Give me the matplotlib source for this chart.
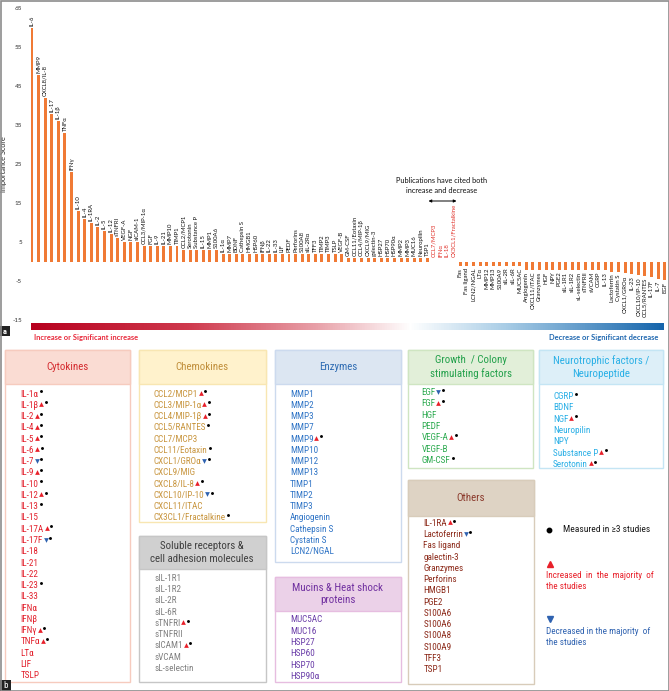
import numpy as np
import matplotlib
matplotlib.use('Agg')
import matplotlib.pyplot as plt
from matplotlib import font_manager
from matplotlib.patches import Rectangle
from matplotlib.colors import LinearSegmentedColormap

names = {f.name for f in font_manager.fontManager.ttflist}
NARROW = next((n for n in ['Liberation Sans Narrow', 'Roboto Condensed', 'Arial Narrow', 'Liberation Sans'] if n in names), 'DejaVu Sans')
LABELF = 'Lato' if 'Lato' in names else NARROW
plt.rcParams['font.family'] = [NARROW, 'DejaVu Sans']

# ---------------- Panel a data ----------------
bar_labels = ['IL-6', 'MMP9', 'CXCL8/IL-8', 'IL-17', 'IL-1β', 'TNFα', 'IFNγ', 'IL-10', 'IL-4', 'IL-1RA',
              'IL-2', 'IL-5', 'IL-12', 'sTNFRI', 'VEGF-A', 'NGF', 'sICAM-1', 'CCL3/MIP-1α', 'FGF', 'IL-9',
              'IL-21', 'MMP10', 'TIMP1', 'CCL2/MCP1', 'Serotonin', 'Substance P', 'IL-15', 'MMP1', 'S100A6',
              'IL-1α', 'MMP7', 'BDNF', 'Cathepsin S', 'HMGB1', 'HSP60', 'IFNβ', 'IL-22', 'IL-33', 'LIF',
              'PEDF', 'Perforins', 'S100A8', 'sIL-2Rα', 'TFF3', 'TIMP2', 'TIMP3', 'TSLP', 'VEGF-B',
              'GM-CSF', 'CCL11/Eotaxin', 'CCL4/MIP-1β', 'CXCL9/MIG', 'galectin-3', 'HSP27', 'HSP70',
              'HSP90α', 'MMP2', 'MMP3', 'MUC16', 'Neuropilin', 'TSP1',
              'CCL7/MCP3', 'IFNα', 'IL-18', 'CX3CL1/Fractalkine',
              'Fas', 'Fas ligand', 'LCN2/NGAL', 'LTα', 'MMP12', 'MMP13', 'S100A9', 'sIL-2R', 'sIL-6R', 'MUC5AC',
              'Angiogenin', 'CXCL11/ITAC', 'Granzymes', 'HGF', 'NPY', 'PGE2', 'sIL-1R1', 'sIL-1R2',
              'sL-selectin', 'sTNFRII', 'sVCAM', 'CGRP', 'IL-13',
              'Lactoferrin', 'Cystatin S', 'CXCL1/GROα', 'IL-23', 'CXCL10/IP-10', 'CCL5/RANTES',
              'IL-17F', 'IL-7', 'EGF']
bar_values = [60, 48, 42, 38, 36, 33, 23, 13, 11, 10,
              9, 8, 7, 6, 5, 5, 5, 4, 4, 4,
              4, 4, 4, 3, 3, 3, 3, 3, 3,
              2, 2, 2, 2, 2, 2, 2, 2, 2, 2,
              2, 2, 2, 2, 2, 2, 2, 2, 2,
              1, 1, 1, 1, 1, 1, 1,
              1, 1, 1, 1, 1, 1,
              0, 0, 0, 0,
              -1, -1, -1, -1, -1, -1, -1, -1, -1, -1,
              -2, -2, -2, -2, -2, -2, -2, -2,
              -2, -2, -2, -2, -2,
              -2.5, -2.7, -3, -3.2, -3.5, -3.6,
              -4, -4.4, -4.7]
y_ticks = [65, 55, 45, 35, 25, 15, 5, -5, -15]

# ---------------- Panel b data ----------------
cyto_items = ['IL-1α', 'IL-1β', 'IL-2', 'IL-4', 'IL-5', 'IL-6', 'IL-7', 'IL-9', 'IL-10', 'IL-12', 'IL-13',
              'IL-15', 'IL-17A', 'IL-17F', 'IL-18', 'IL-21', 'IL-22', 'IL-23', 'IL-33', 'IFNα', 'IFNβ',
              'IFNγ', 'TNFα', 'LTα', 'LIF', 'TSLP']
cyto_marks = ['.', '^.', '^.', '^.', '^.', '^.', 'v.', '^.', '.', '^.', '.',
              '', '^.', 'v.', '', '', '', '.', '', '', '',
              '^.', '^.', '', '', '']
chemo_items = ['CCL2/MCP1', 'CCL3/MIP-1α', 'CCL4/MIP-1β', 'CCL5/RANTES', 'CCL7/MCP3', 'CCL11/Eotaxin',
               'CXCL1/GROα', 'CXCL9/MIG', 'CXCL8/IL-8', 'CXCL10/IP-10', 'CXCL11/ITAC', 'CX3CL1/Fractalkine']
chemo_marks = ['^.', '^.', '^.', '.', '', '.', 'v.', '', '^.', 'v.', '', '.']
enz_items = ['MMP1', 'MMP2', 'MMP3', 'MMP7', 'MMP9', 'MMP10', 'MMP12', 'MMP13', 'TIMP1', 'TIMP2',
             'TIMP3', 'Angiogenin', 'Cathepsin S', 'Cystatin S', 'LCN2/NGAL']
enz_marks = ['', '', '', '', '^.', '', '', '', '', '', '', '', '', '', '']
growth_items = ['EGF', 'FGF', 'HGF', 'PEDF', 'VEGF-A', 'VEGF-B', 'GM-CSF']
growth_marks = ['v.', '^.', '', '', '^.', '', '.']
neuro_items = ['CGRP', 'BDNF', 'NGF', 'Neuropilin', 'NPY', 'Substance P', 'Serotonin']
neuro_marks = ['.', '', '^.', '', '', '^.', '^.']
sol_items = ['sIL-1R1', 'sIL-1R2', 'sIL-2R', 'sIL-6R', 'sTNFRI', 'sTNFRII', 'sICAM1', 'sVCAM', 'sL-selectin']
sol_marks = ['', '', '', '', '^.', '', '^.', '', '']
muc_items = ['MUC5AC', 'MUC16', 'HSP27', 'HSP60', 'HSP70', 'HSP90α']
muc_marks = ['', '', '', '', '', '']
oth_items = ['IL-1RA', 'Lactoferrin', 'Fas ligand', 'galectin-3', 'Granzymes', 'Perforins', 'HMGB1',
             'PGE2', 'S100A6', 'S100A6', 'S100A8', 'S100A9', 'TFF3', 'TSP1']
oth_marks = ['^.', 'v.', '', '', '', '', '', '', '', '', '', '', '', '']

W, H = 669, 691
fig = plt.figure(figsize=(W / 100, H / 100), dpi=100)
fig.patch.set_facecolor('white')

# ---------------- Panel a: bar chart ----------------
x0_px, x1_px = 24.1, 668.6
y_top_px, y_bot_px = 8.3, 320.3
ax = fig.add_axes([x0_px / W, 1 - y_bot_px / H, (x1_px - x0_px) / W, (y_bot_px - y_top_px) / H])
idx = np.arange(len(bar_labels))
ax.bar(idx, bar_values, width=0.45, color='#F07A35', zorder=2)
ax.set_xlim(-1.2, 96.6)
ax.set_ylim(-15, 65)
ax.set_yticks(y_ticks)
ax.set_yticklabels([str(t) for t in y_ticks], fontsize=4.6, color='#333333', family=LABELF)
ax.tick_params(axis='y', length=0, pad=1.5)
ax.set_xticks([])
for s in ax.spines.values():
    s.set_visible(False)
ax.patch.set_alpha(0)
ax.set_ylabel('Importance Score', fontsize=5.2, family=LABELF, labelpad=3.5, color='#222222')

for i, (lab, v) in enumerate(zip(bar_labels, bar_values)):
    if v > 0:
        ax.annotate(lab, (i, v), xytext=(0, 1.5), textcoords='offset points', rotation=90,
                    ha='center', va='bottom', fontsize=4.3, family=LABELF, color='#111111',
                    annotation_clip=False)
    elif v == 0:
        ax.annotate(lab, (i, 0), xytext=(0, 3.5), textcoords='offset points', rotation=90,
                    ha='center', va='bottom', fontsize=4.3, family=LABELF, color='#E03028',
                    annotation_clip=False)
    else:
        ax.annotate(lab, (i, v), xytext=(0, -1.5), textcoords='offset points', rotation=90,
                    ha='center', va='top', fontsize=4.3, family=LABELF, color='#111111',
                    annotation_clip=False)

# ---------------- overlay (pixel coordinates) ----------------
ov = fig.add_axes([0, 0, 1, 1])
ov.set_xlim(0, W)
ov.set_ylim(H, 0)
ov.axis('off')

ov.text(442, 180.7, 'Publications have cited both', ha='center', va='center', fontsize=5.3,
        family=LABELF, color='#111111')
ov.text(442, 190.5, 'increase and decrease', ha='center', va='center', fontsize=5.3,
        family=LABELF, color='#111111')
ov.annotate('', xy=(428.5, 201), xytext=(456.5, 201),
            arrowprops=dict(arrowstyle='<|-|>', lw=0.7, color='black', mutation_scale=4,
                            shrinkA=0, shrinkB=0))

# gradient bar
cmap = LinearSegmentedColormap.from_list('rb', [(0, '#B7001E'), (0.25, '#CF3A4E'), (0.45, '#E8A0A8'),
                                                (0.6, '#FFFFFF'), (0.75, '#A9CDE6'), (1, '#1565AC')])
grad = np.linspace(0, 1, 512).reshape(1, -1)
ov.imshow(grad, cmap=cmap, aspect='auto', extent=(30.7, 663.5, 329.5, 323.2), zorder=1)
ov.set_xlim(0, W)
ov.set_ylim(H, 0)
ov.text(34, 337, 'Increase or Significant increase', ha='left', va='center', fontsize=5.4,
        family=LABELF, fontweight='bold', color='#E8283A')
ov.text(658, 337, 'Decrease or Significant decrease', ha='right', va='center', fontsize=5.4,
        family=LABELF, fontweight='bold', color='#2068B0')

# a / b labels
ov.add_patch(Rectangle((0, 326), 9.5, 10, facecolor='#222222', edgecolor='none', zorder=5))
ov.text(4.75, 331, 'a', ha='center', va='center', color='white', fontsize=6, fontweight='bold', zorder=6)
ov.add_patch(Rectangle((0, 680), 10.5, 11, facecolor='#222222', edgecolor='none', zorder=5))
ov.text(5.25, 685.5, 'b', ha='center', va='center', color='white', fontsize=6.5, zorder=6)

# ---------------- Panel b boxes ----------------
boxes = [
    (5, 130, 350, 384, 682, '#FADCD3', '#F6CBBE', '#D42A2E', '#E2202C', 'Cytokines', cyto_items, cyto_marks, 20.7, 394),
    (138.5, 265.5, 350, 384, 522, '#FFF2CC', '#F8E6B2', '#C08E3A', '#C8953E', 'Chemokines', chemo_items, chemo_marks, 153.6, 394),
    (275, 401, 350, 384, 562, '#DCE6F2', '#CCDAEE', '#2F6CB3', '#2F74C6', 'Enzymes', enz_items, enz_marks, 290, 394),
    (408, 533, 350, 384, 468, '#E2EFD9', '#CFE5C2', '#22A04A', '#2DAA50', 'Growth  / Colony\nstimulating factors', growth_items, growth_marks, 421.5, 392.7),
    (538.5, 663, 350, 384, 468, '#DDEFF8', '#C4E5F4', '#2AB0E6', '#2AAFE6', 'Neurotrophic factors /\nNeuropeptide', neuro_items, neuro_marks, 553, 396.7),
    (138.5, 265.5, 536, 569, 682, '#D0D0D0', '#C6C6C6', '#404040', '#808080', 'Soluble receptors &\ncell adhesion molecules', sol_items, sol_marks, 154.3, 578.3),
    (275, 401, 577, 611, 682, '#EBD1E8', '#E6BDE0', '#7030A0', '#6A3DA8', 'Mucins & Heat shock\nproteins', muc_items, muc_marks, 290.3, 620),
    (408, 534, 480, 516, 684, '#DED3C4', '#D8CCBA', '#8B3A2C', '#8C2A1A', 'Others', oth_items, oth_marks, 423.3, 523.3),
]

item_texts = []
for (bx0, bx1, yt, yh, yb, hf, bc, tc, ic, title, items, marks, ix, iy0) in boxes:
    ov.add_patch(Rectangle((bx0, yt), bx1 - bx0, yb - yt, facecolor='white', edgecolor=bc, lw=1.0, zorder=2))
    ov.add_patch(Rectangle((bx0, yt), bx1 - bx0, yh - yt, facecolor=hf, edgecolor=bc, lw=1.0, zorder=3))
    ov.text((bx0 + bx1) / 2, (yt + yh) / 2, title, ha='center', va='center', fontsize=7.8,
            color=tc, linespacing=1.35, zorder=4)
    for k, (it, mk) in enumerate(zip(items, marks)):
        t = ov.text(ix, iy0 + k * 11.27, it, ha='left', va='center', fontsize=6.6, color=ic, zorder=4)
        item_texts.append((t, mk, iy0 + k * 11.27))

# legend
ov.plot([549], [530], marker='o', color='black', ms=3.2, zorder=5)
ov.text(562.7, 530, 'Measured in ≥3 studies', ha='left', va='center', fontsize=6.8, color='#1a1a1a')
ov.plot([550], [564.3], marker='^', color='#E8202A', ms=4.5, zorder=5)
ov.text(545.7, 575.7, 'Increased  in  the  majority  of', ha='left', va='center', fontsize=6.6, color='#E8202A')
ov.text(545.7, 586.7, 'the studies', ha='left', va='center', fontsize=6.6, color='#E8202A')
ov.plot([550], [619], marker='v', color='#2F62B0', ms=4.5, zorder=5)
ov.text(545.7, 631.7, 'Decreased in the majority  of', ha='left', va='center', fontsize=6.6, color='#2F62B0')
ov.text(545.7, 642.7, 'the studies', ha='left', va='center', fontsize=6.6, color='#2F62B0')

# frame
ov.add_patch(Rectangle((0.5, 0.5), W - 1, H - 1, facecolor='none', edgecolor='#8C8C8C', lw=1.2, zorder=10))

# markers after measuring text
fig.canvas.draw()
r = fig.canvas.get_renderer()
inv = ov.transData.inverted()
for t, mk, yc in item_texts:
    if not mk:
        continue
    bb = t.get_window_extent(r)
    xr = inv.transform((bb.x1, bb.y0))[0]
    xpos = xr + 0.5
    if '^' in mk or 'v' in mk:
        col = '#E8202A' if '^' in mk else '#2F62B0'
        ov.plot([xpos + 2.2], [yc - 1.0], marker='^' if '^' in mk else 'v', color=col, ms=3.4,
                mew=0, zorder=6, clip_on=False)
        xpos += 5.0
    ov.plot([xpos + 1.8], [yc - 2.8], marker='o', color='black', ms=2.1, mew=0, zorder=6, clip_on=False)

fig.savefig('out.png', dpi=100, facecolor='white')
